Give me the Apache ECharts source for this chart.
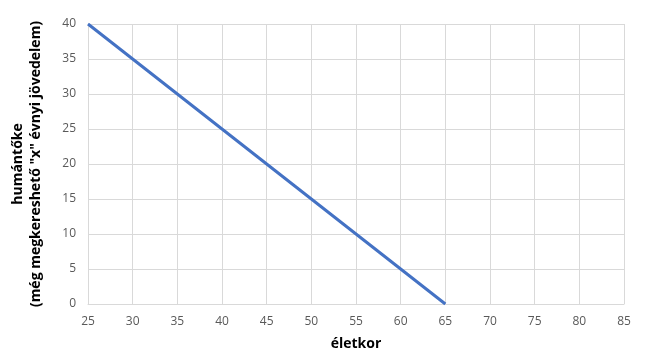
<!DOCTYPE html>
<html><head><meta charset="utf-8">
<script src="https://cdn.jsdelivr.net/npm/echarts@6/dist/echarts.min.js"></script>
<style>html,body{margin:0;padding:0;background:#fff}#c{width:650px;height:352px}</style>
</head><body><div id="c"></div>
<script>
const ages = [25,26,27,28,29,30,31,32,33,34,35,36,37,38,39,40,41,42,43,44,45,46,47,48,49,50,51,52,53,54,55,56,57,58,59,60,61,62,63,64,65];
const humanCapital = [40,39,38,37,36,35,34,33,32,31,30,29,28,27,26,25,24,23,22,21,20,19,18,17,16,15,14,13,12,11,10,9,8,7,6,5,4,3,2,1,0];
const xTitle = 'életkor';
const yTitle = 'humántőke\n(még megkereshető "x" évnyi jövedelem)';
const font = '"Open Sans", "Noto Sans", sans-serif';
const chart = echarts.init(document.getElementById('c'));
chart.setOption({
  animation:false,
  grid:{left:88,right:26,top:24,bottom:48,containLabel:false,outerBoundsMode:'none'},
  xAxis:{type:'value',min:25,max:85,interval:5,
    name:xTitle,nameLocation:'middle',nameGap:33,
    nameTextStyle:{fontFamily:font,fontWeight:'bold',fontSize:14,color:'#000'},
    axisLine:{show:true,lineStyle:{color:'#d9d9d9'}},axisTick:{show:false},
    axisLabel:{fontFamily:font,fontSize:12,color:'#595959',margin:12},
    splitLine:{show:true,lineStyle:{color:'#d9d9d9'}}},
  yAxis:{type:'value',min:0,max:40,interval:5,
    name:yTitle,nameLocation:'middle',nameGap:43,nameRotate:90,
    nameTextStyle:{fontFamily:font,fontWeight:'bold',fontSize:14,color:'#000',lineHeight:18},
    axisLine:{show:true,lineStyle:{color:'#d9d9d9'}},axisTick:{show:false},
    axisLabel:{fontFamily:font,fontSize:12,color:'#595959',margin:12},
    splitLine:{show:true,lineStyle:{color:'#d9d9d9'}}},
  series:[{type:'line',data:ages.map((a,i)=>[a,humanCapital[i]]),showSymbol:false,
    lineStyle:{color:'#4472c4',width:3}}]
});
</script></body></html>
